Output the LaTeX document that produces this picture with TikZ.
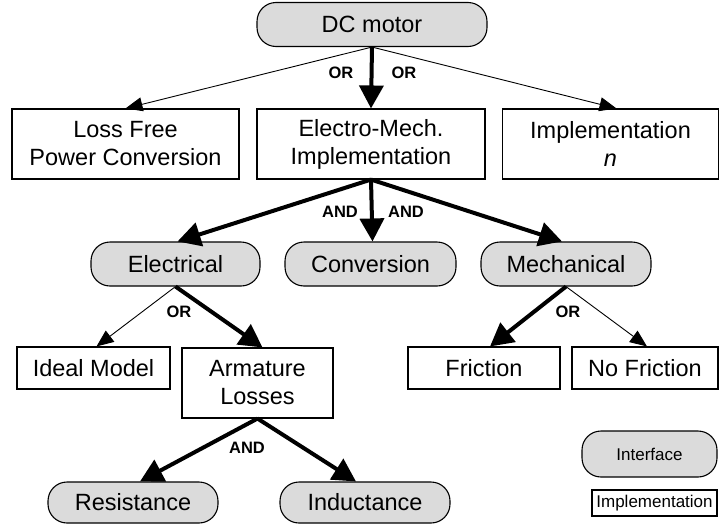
\documentclass[tikz,border=0pt]{standalone}
\usepackage{fontspec}
\setmainfont{Liberation Sans}
\usetikzlibrary{arrows.meta}
\tikzset{
  iface/.style = {draw, line width=1.1pt, rounded corners=19pt, fill=black!14,
                  font=\fontsize{23.5}{28}\selectfont, inner sep=0pt,
                  minimum height=44pt},
  impl/.style  = {draw, line width=1.1pt, fill=white, align=center,
                  font=\fontsize{23.5}{28}\selectfont, inner sep=0pt},
  thin/.style  = {-{Triangle[length=17pt,width=14pt]}, line width=0.9pt},
  thick/.style = {-{Triangle[length=23pt,width=24pt]}, line width=4pt},
  op/.style    = {font=\fontsize{16.5}{16.5}\bfseries, inner sep=0pt},
  key/.style   = {font=\fontsize{17}{19}\selectfont},
}
\begin{document}
\begin{tikzpicture}[x=1pt, y=-1pt]
\useasboundingbox (0,0) rectangle (720,525);
\node[iface, minimum width=230pt] (motor) at (372,24.5) {DC motor};
\node[impl, minimum width=227pt, minimum height=70pt] (lossfree) at (125.5,144)
     {Loss Free\\Power Conversion};
\node[impl, minimum width=228pt, minimum height=70pt] (emech) at (371,144)
     {Electro-Mech.\\Implementation};
\node[impl, minimum width=216pt, minimum height=70pt] (impln) at (610.5,144)
     {Implementation\\\textit{n}};
\node[iface, minimum width=169pt] (elec) at (175.5,264) {Electrical};
\node[iface, minimum width=171pt] (conv) at (370.5,264) {Conversion};
\node[iface, minimum width=170pt] (mech) at (566,264) {Mechanical};
\node[impl, minimum width=153pt, minimum height=42pt] (ideal) at (93.5,368) {Ideal Model};
\node[impl, minimum width=151pt, minimum height=70pt] (armat) at (257.5,383)
     {Armature\\Losses};
\node[impl, minimum width=152pt, minimum height=42pt] (frict) at (484,368) {Friction};
\node[impl, minimum width=146pt, minimum height=42pt] (nofrict) at (645,368) {No Friction};
\node[iface, minimum width=170pt, minimum height=41pt] (resist) at (133,502.5) {Resistance};
\node[iface, minimum width=170pt, minimum height=41pt] (induct) at (365,502.5) {Inductance};
\node[iface, key, minimum width=135pt, minimum height=46pt] (keyiface) at (649.5,454) {Interface};
\node[impl, key, minimum width=125pt, minimum height=26pt] (keyimpl) at (654.5,503) {Implementation};
\draw[thin] (motor.south) -- (lossfree.north);
\draw[thick] (motor.south) -- (emech.north);
\draw[thin] (motor.south) -- ([xshift=6pt]impln.north);
\draw[thick] (emech.south) -- ([xshift=2pt]elec.north);
\draw[thick] (emech.south) -- ([xshift=2pt]conv.north);
\draw[thick] (emech.south) -- ([xshift=-4pt]mech.north);
\draw[thin] (elec.south) -- ([xshift=3pt]ideal.north);
\draw[thick] (elec.south) -- ([xshift=5pt]armat.north);
\draw[thick] (mech.south) -- ([xshift=6pt]frict.north);
\draw[thin] (mech.south) -- ([xshift=2pt]nofrict.north);
\draw[thick] (armat.south) -- ([xshift=7pt]resist.north);
\draw[thick] (armat.south) -- ([xshift=-9pt]induct.north);
\node[op] (or1) at (341,73) {OR};
\node[op] (or2) at (404,73) {OR};
\node[op] (and1) at (340,212) {AND};
\node[op] (and2) at (406,212) {AND};
\node[op] (or3) at (179,312) {OR};
\node[op] (or4) at (568,312) {OR};
\node[op] (and3) at (247,448) {AND};
\end{tikzpicture}
\end{document}
